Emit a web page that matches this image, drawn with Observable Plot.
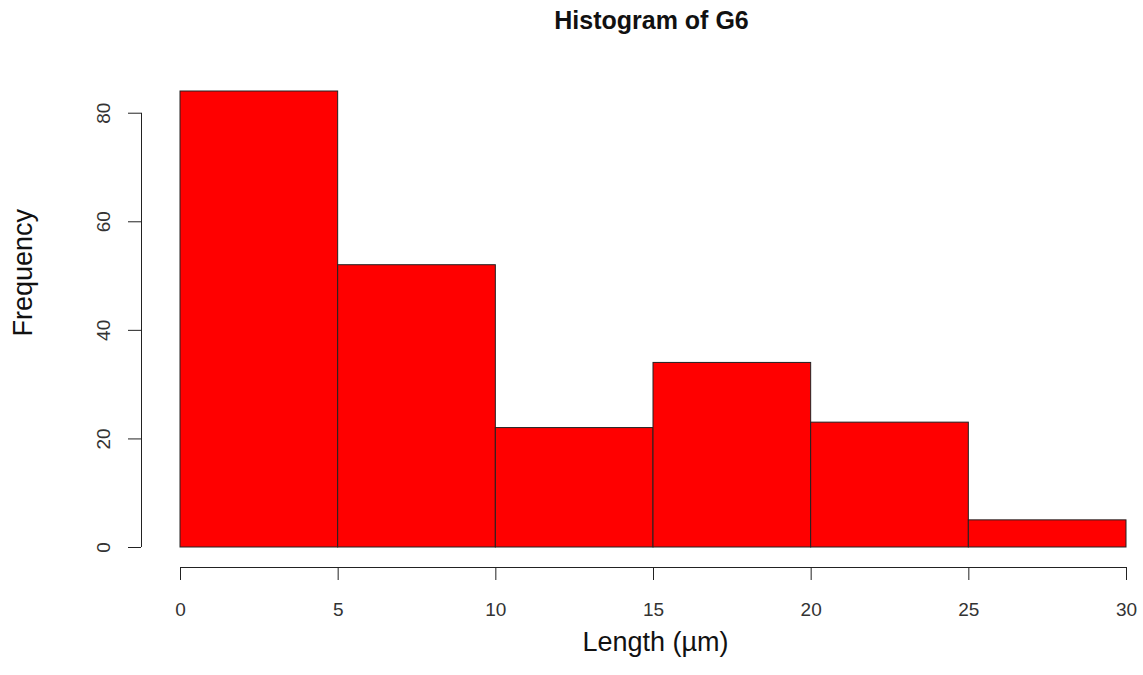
<!DOCTYPE html>
<html>
<head>
<meta charset="utf-8">
<script src="https://cdn.jsdelivr.net/npm/d3@7"></script>
<script src="https://cdn.jsdelivr.net/npm/@observablehq/plot@0.6"></script>
<style>
  html, body { margin: 0; padding: 0; background: #ffffff; }
</style>
</head>
<body>
<div id="chart"></div>
<script>
const title = "Histogram of G6";
const xLabel = "Length (µm)";
const yLabel = "Frequency";
const binStarts = [0, 5, 10, 15, 20, 25];
const binEnds = [5, 10, 15, 20, 25, 30];
const counts = [84, 52, 22, 34, 23, 5];
const xTicks = [0, 5, 10, 15, 20, 25, 30];
const yTicks = [0, 20, 40, 60, 80];

const bins = counts.map((c, i) => ({x1: binStarts[i], x2: binEnds[i], count: c}));
const ink = "#222";

const chart = Plot.plot({
  width: 1143,
  height: 675,
  marginLeft: 180,
  marginRight: 17,
  marginTop: 91,
  marginBottom: 128,
  x: {domain: [xTicks[0], xTicks[xTicks.length - 1]]},
  y: {domain: [0, d3.max(counts)]},
  style: {fontFamily: "Arial, 'Liberation Sans', sans-serif", background: "#ffffff", color: ink},
  marks: [
    Plot.rectY(bins, {x1: "x1", x2: "x2", y: "count", fill: "#ff0000", stroke: ink, strokeWidth: 1}),
    // x axis line (offset below the bars, R style)
    Plot.ruleY([0], {x1: xTicks[0], x2: xTicks[xTicks.length - 1], dy: 20, stroke: ink}),
    Plot.axisX(xTicks, {anchor: "bottom", tickSize: 13, dy: 20, tickPadding: 22, fontSize: 19,
      tickFormat: d => String(d), label: null, stroke: ink, fill: "#333"}),
    // y axis line
    Plot.ruleX([xTicks[0]], {y1: yTicks[0], y2: yTicks[yTicks.length - 1], dx: -39, stroke: ink}),
    Plot.axisY(yTicks, {anchor: "left", tickSize: 13, dx: -39, tickPadding: 25, tickRotate: -90,
      lineAnchor: "middle", textAnchor: "middle", fontSize: 19,
      tickFormat: d => String(d), label: null, stroke: ink, fill: "#333"}),
    // titles
    Plot.text([title], {frameAnchor: "top", dx: -2, dy: -71, fontSize: 25, fontWeight: "bold",
      lineAnchor: "middle", fill: "#111"}),
    Plot.text([xLabel], {frameAnchor: "bottom", dx: 2, dy: 95, fontSize: 27, lineAnchor: "middle", fill: "#111"}),
    Plot.text([yLabel], {frameAnchor: "left", dx: -157, dy: 17, rotate: -90, fontSize: 27,
      lineAnchor: "middle", fill: "#111"})
  ]
});
document.getElementById("chart").appendChild(chart);
</script>
</body>
</html>
